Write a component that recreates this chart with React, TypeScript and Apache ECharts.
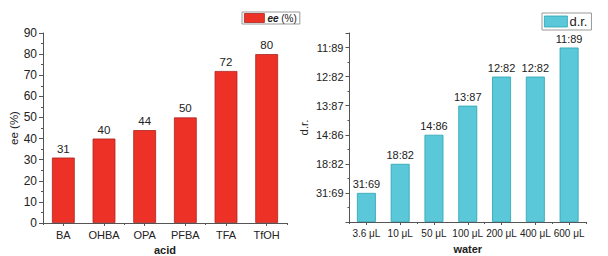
import React, { useEffect, useRef } from "react";
import * as echarts from "echarts";

const acids = ["BA", "OHBA", "OPA", "PFBA", "TFA", "TfOH"];
const eeValues = [31, 40, 44, 50, 72, 80];

const waterVolumes = ["3.6 μL", "10 μL", "50 μL", "100 μL", "200 μL", "400 μL", "600 μL"];
const drLevels = [1, 2, 3, 4, 5, 5, 6];
const drLabels = ["31:69", "18:82", "14:86", "13:87", "12:82", "12:82", "11:89"];
const drTickLabels = ["", "31:69", "18:82", "14:86", "13:87", "12:82", "11:89"];

const FONT = "'Liberation Sans', Arial, sans-serif";
const TXT = "#222";
const RED = "#ee3126";
const CYAN = "#5bc8d9";

export default function App() {
  const ref = useRef<HTMLDivElement>(null);
  useEffect(() => {
    if (!ref.current) return;
    const chart = echarts.init(ref.current, undefined, { renderer: "svg" });
    const axisLine = { show: true, lineStyle: { color: "#555", width: 1 } };
    const yCommon = {
      axisLine,
      axisTick: { show: true, inside: false, length: 4, lineStyle: { color: "#555" } },
      minorTick: { show: true, splitNumber: 2, length: 2, lineStyle: { color: "#555" } },
      splitLine: { show: false },
      nameLocation: "middle" as const,
      nameRotate: 90,
    };
    chart.setOption({
      animation: false,
      textStyle: { fontFamily: FONT, color: TXT },
      legend: [
        {
          data: ["ee (%)"],
          left: 242,
          top: 12,
          orient: "horizontal",
          icon: "rect",
          itemWidth: 20,
          itemHeight: 9,
          padding: [1, 3, 1, 2],
          borderColor: "#999",
          borderWidth: 1,
          borderRadius: 0,
          itemGap: 3,
          formatter: () => "{i|ee} (%)",
          itemStyle: { borderColor: "#a82420", borderWidth: 0.8 },
          textStyle: {
            fontSize: 10,
            color: TXT,
            padding: [0, 0, 0, -2],
            rich: { i: { fontStyle: "italic", fontWeight: "bold", fontSize: 10, color: TXT } },
          },
        },
        {
          data: ["d.r."],
          left: 542,
          top: 13,
          orient: "horizontal",
          icon: "rect",
          itemWidth: 23,
          itemHeight: 11,
          padding: [2, 4, 2, 2],
          borderColor: "#999",
          borderWidth: 1,
          borderRadius: 0,
          itemStyle: { borderColor: "#2aa2b2", borderWidth: 0.8 },
          textStyle: { fontSize: 13, color: TXT, padding: [0, 0, 0, -3] },
        },
      ],
      grid: [
        { left: 43, top: 33, width: 244, height: 190, outerBoundsMode: "none", containLabel: false },
        { left: 349.5, top: 33, width: 236.5, height: 189, outerBoundsMode: "none", containLabel: false },
      ],
      xAxis: [
        {
          type: "category",
          gridIndex: 0,
          data: acids,
          axisLine,
          axisTick: { show: true, alignWithLabel: true, length: 3, lineStyle: { color: "#555" } },
          axisLabel: { fontSize: 11, color: TXT, margin: 6 },
          name: "acid",
          nameLocation: "middle",
          nameGap: 20,
          nameTextStyle: { fontWeight: "bold", fontSize: 11, color: TXT },
        },
        {
          type: "category",
          gridIndex: 0,
          data: acids,
          position: "bottom",
          axisLine: { show: false },
          axisTick: { show: true, alignWithLabel: false, length: 2, lineStyle: { color: "#555" } },
          axisLabel: { show: false },
        },
        {
          type: "category",
          gridIndex: 1,
          data: waterVolumes,
          axisLine,
          axisTick: { show: true, alignWithLabel: true, length: 3, lineStyle: { color: "#555" } },
          axisLabel: { fontSize: 10, color: TXT, margin: 6, interval: 0 },
          name: "water",
          nameLocation: "middle",
          nameGap: 21,
          nameTextStyle: { fontWeight: "bold", fontSize: 11, color: TXT },
        },
        {
          type: "category",
          gridIndex: 1,
          data: waterVolumes,
          position: "bottom",
          axisLine: { show: false },
          axisTick: { show: true, alignWithLabel: false, length: 2, lineStyle: { color: "#555" } },
          axisLabel: { show: false },
        },
      ],
      yAxis: [
        {
          type: "value",
          gridIndex: 0,
          min: 0,
          max: 90,
          interval: 10,
          ...yCommon,
          axisLabel: { fontSize: 12, color: TXT, margin: 6 },
          name: "ee (%)",
          nameGap: 22,
          nameTextStyle: { fontSize: 11.5, color: TXT },
        },
        {
          type: "value",
          gridIndex: 1,
          min: 0,
          max: 6.5,
          interval: 1,
          ...yCommon,
          axisLabel: {
            fontSize: 11,
            color: TXT,
            margin: 6,
            showMaxLabel: false,
            formatter: (v: number) => (Number.isInteger(v) ? drTickLabels[v] ?? "" : ""),
          },
          name: "d.r.",
          nameGap: 40,
          nameTextStyle: { fontSize: 11.5, color: TXT },
        },
      ],
      series: [
        {
          name: "ee (%)",
          type: "bar",
          xAxisIndex: 0,
          yAxisIndex: 0,
          data: eeValues,
          barWidth: "56%",
          itemStyle: { color: RED, borderColor: "#a82420", borderWidth: 0.8 },
          label: { show: true, position: "top", distance: 3, fontSize: 11.5, color: TXT },
        },
        {
          name: "d.r.",
          type: "bar",
          xAxisIndex: 2,
          yAxisIndex: 1,
          data: drLevels,
          barWidth: "56%",
          itemStyle: { color: CYAN, borderColor: "#2aa2b2", borderWidth: 0.8 },
          label: {
            show: true,
            position: "top",
            distance: 3,
            fontSize: 11,
            color: TXT,
            formatter: (p: any) => drLabels[p.dataIndex],
          },
        },
      ],
    });
    return () => chart.dispose();
  }, []);
  return <div ref={ref} style={{ width: 608, height: 256, position: "absolute", left: 0, top: 0, background: "#fff" }} />;
}
